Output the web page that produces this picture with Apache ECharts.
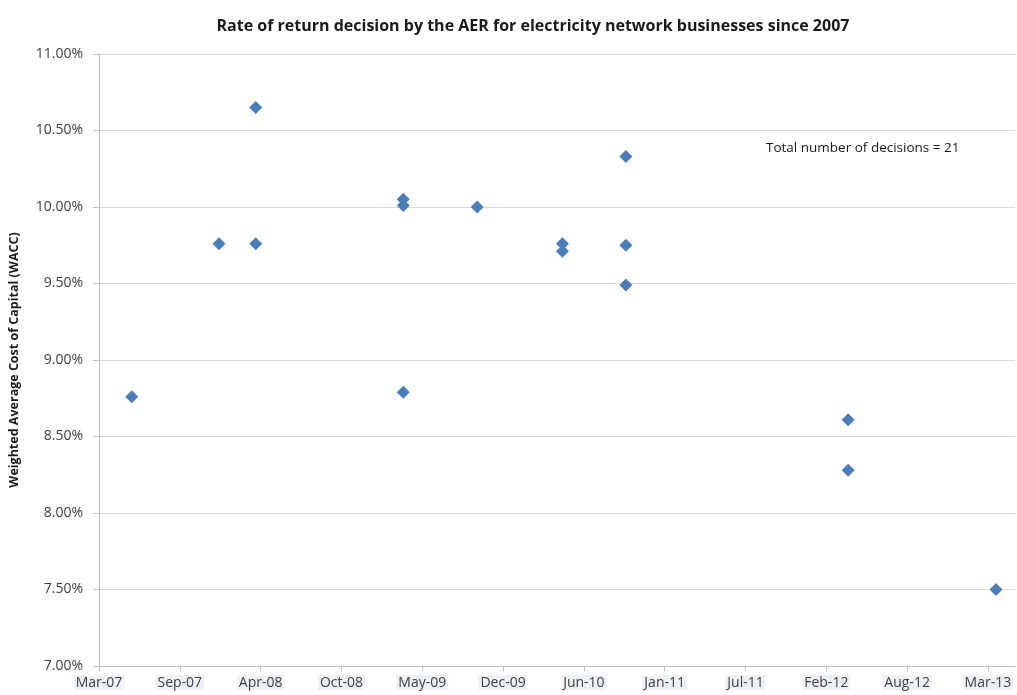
<!DOCTYPE html>
<html>
<head>
<meta charset="utf-8">
<title>Rate of return decisions</title>
<script src="https://cdn.jsdelivr.net/npm/echarts@6/dist/echarts.min.js"></script>
<style>
  html, body { margin: 0; padding: 0; background: #fff; }
  #chart { width: 1017px; height: 695px; }
</style>
</head>
<body>
<div id="chart"></div>
<script>
// Decision dates and the WACC (%) set in each decision
const decisionDates = [
  '2007-05-30',
  '2008-01-01', '2008-04-01', '2008-04-01',
  '2009-04-01', '2009-04-01', '2009-04-01',
  '2009-10-01',
  '2010-04-30', '2010-04-30',
  '2010-10-04', '2010-10-04', '2010-10-04',
  '2012-04-06', '2012-04-06',
  '2013-04-07'
];
const waccValues = [
  8.76,
  9.76, 9.76, 10.65,
  10.05, 10.01, 8.79,
  10.00,
  9.76, 9.71,
  10.33, 9.75, 9.49,
  8.61, 8.28,
  7.50
];

// X axis: days counted from the first tick, one tick every 200 days
const axisStart = '2007-03-10';
const tickDays = 200;
const axisEndDay = 2267;
const tickLabels = ['Mar-07', 'Sep-07', 'Apr-08', 'Oct-08', 'May-09', 'Dec-09',
                    'Jun-10', 'Jan-11', 'Jul-11', 'Feb-12', 'Aug-12', 'Mar-13'];

const yTicks = [7.0, 11.0, 0.5]; // min, max, step

const titleText = 'Rate of return decision by the AER for electricity network businesses since 2007';
const yAxisTitle = 'Weighted Average Cost of Capital (WACC)';
const noteText = 'Total number of decisions = 21';

const DAY = 86400000;
function dayOffset(s) {
  return Math.round((Date.parse(s + 'T00:00:00Z') - Date.parse(axisStart + 'T00:00:00Z')) / DAY);
}
const points = decisionDates.map((d, i) => [dayOffset(d), waccValues[i]]);
const tickValues = tickLabels.map((_, i) => i * tickDays);

const FONT = '"Open Sans", "Noto Sans", sans-serif';
const chart = echarts.init(document.getElementById('chart'), null, { renderer: 'canvas' });

chart.setOption({
  animation: false,
  backgroundColor: '#ffffff',
  title: {
    text: titleText,
    left: 528,
    top: 13,
    textAlign: 'center',
    textStyle: { fontFamily: FONT, fontWeight: 'bold', fontSize: 16, color: '#1a1a1a' }
  },
  grid: { left: 97, right: 2, top: 54, bottom: 29, containLabel: false },
  xAxis: {
    type: 'value',
    min: 0,
    max: axisEndDay,
    interval: tickDays,
    splitLine: { show: false },
    axisLine: { show: true, lineStyle: { color: '#bfbfbf', width: 1 } },
    axisTick: {
      show: true, inside: false, length: 5,
      customValues: tickValues,
      lineStyle: { color: '#bfbfbf' }
    },
    axisLabel: {
      margin: 9,
      customValues: tickValues,
      fontFamily: FONT,
      fontSize: 14,
      color: '#404040',
      backgroundColor: '#eef1f6',
      padding: [1, 2, 0, 2],
      formatter: v => tickLabels[Math.round(v / tickDays)] || ''
    }
  },
  yAxis: {
    type: 'value',
    min: yTicks[0],
    max: yTicks[1],
    interval: yTicks[2],
    name: yAxisTitle,
    nameLocation: 'middle',
    nameGap: 78,
    nameRotate: 90,
    nameTextStyle: { fontFamily: FONT, fontWeight: 'bold', fontSize: 12.5, color: '#1a1a1a' },
    axisLine: { show: true, lineStyle: { color: '#bfbfbf', width: 1 } },
    axisTick: { show: true, inside: false, length: 6, lineStyle: { color: '#bfbfbf' } },
    splitLine: { show: true, lineStyle: { color: '#d9d9d9', width: 1 } },
    axisLabel: {
      margin: 16,
      fontFamily: FONT,
      fontSize: 14,
      color: '#404040',
      formatter: v => v.toFixed(2) + '%'
    }
  },
  graphic: [{
    type: 'text',
    left: 766,
    top: 141,
    style: { text: noteText, fontFamily: FONT, fontSize: 13.5, fill: '#1a1a1a' }
  }],
  series: [{
    type: 'scatter',
    data: points,
    symbol: 'diamond',
    symbolSize: 13,
    itemStyle: { color: '#4a7ebb', opacity: 1 }
  }]
});
</script>
</body>
</html>
